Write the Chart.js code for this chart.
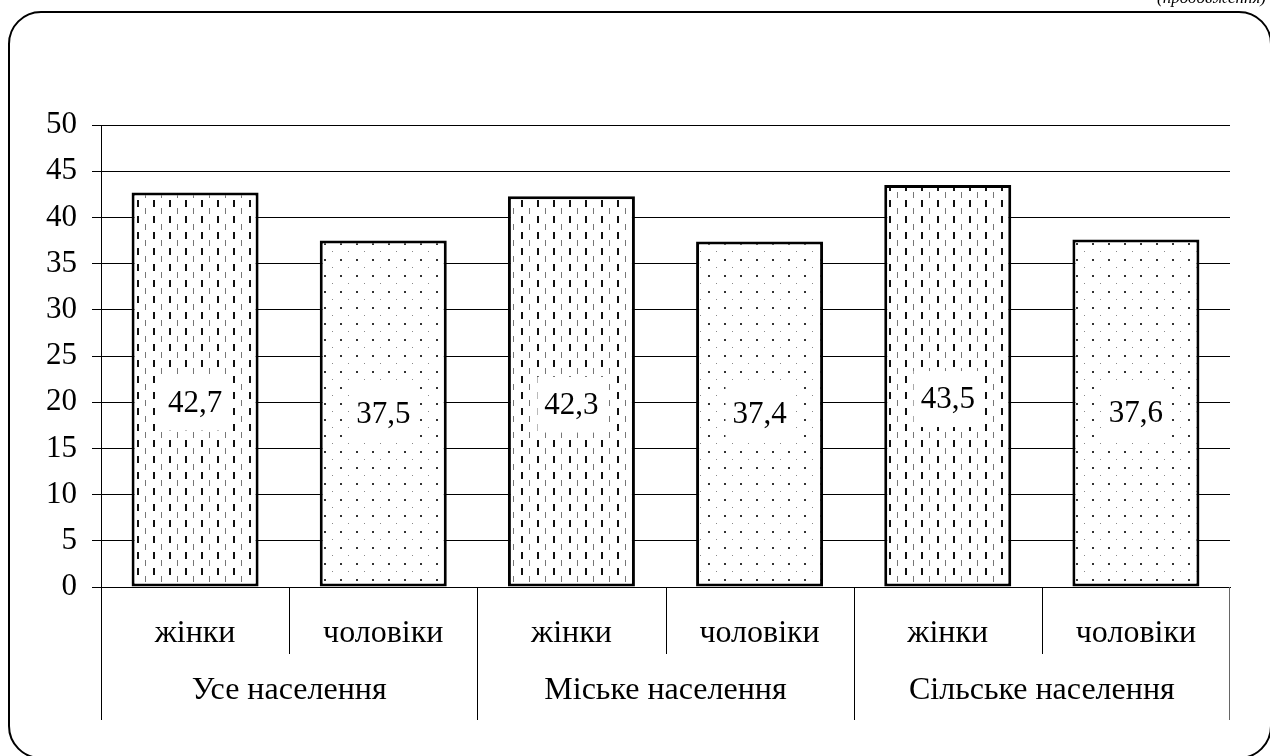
<!DOCTYPE html>
<html lang="uk">
<head>
<meta charset="utf-8">
<title>Середній вік населення</title>
<script src="https://cdn.jsdelivr.net/npm/chart.js@4/dist/chart.umd.min.js"></script>
<style>
    html, body { margin: 0; padding: 0; background: #fff; }
    canvas { display: block; }
</style>
</head>
<body>
<canvas id="ageChart" width="1270" height="756"></canvas>
<script>
/*
 * Bar chart: women / men by settlement type.
 * Bars are filled with hatch patterns, values sit in white boxes.
 */

// Data
const categories = ["жінки", "чоловіки", "жінки", "чоловіки", "жінки", "чоловіки"];
const groups = ["Усе населення", "Міське населення", "Сільське населення"];
const values = [42.7, 37.5, 42.3, 37.4, 43.5, 37.6];
const valueLabels = ["42,7", "37,5", "42,3", "37,4", "43,5", "37,6"];
const yTicks = [0, 5, 10, 15, 20, 25, 30, 35, 40, 45, 50];

const FONT = '"Liberation Serif", "Times New Roman", serif';

// Hatch pattern for women: staggered short vertical dashes
function dashPattern() {
    const c = document.createElement("canvas");
    c.width = 16;
    c.height = 16;
    const g = c.getContext("2d");
    g.fillStyle = "#fff";
    g.fillRect(0, 0, 16, 16);
    g.fillStyle = "#777";
    g.fillRect(1, 0, 1, 6);
    g.fillStyle = "#111";
    g.fillRect(9, 8, 2, 7);
    return g.createPattern(c, "repeat");
}

// Dot pattern for men
function dotPattern() {
    const c = document.createElement("canvas");
    c.width = 16;
    c.height = 16;
    const g = c.getContext("2d");
    g.fillStyle = "#fff";
    g.fillRect(0, 0, 16, 16);
    g.fillStyle = "#333";
    g.fillRect(4, 3, 2, 2);
    g.fillStyle = "#888";
    g.fillRect(12, 11, 1, 1);
    return g.createPattern(c, "repeat");
}

const womenFill = dashPattern();
const menFill = dotPattern();

// Outer rounded frame and the clipped caption at the top
const framePlugin = {
    id: "frame",
    beforeDraw(chart) {
        const ctx = chart.ctx;
        ctx.save();
        ctx.fillStyle = "#fff";
        ctx.fillRect(0, 0, chart.width, chart.height);
        ctx.strokeStyle = "#000";
        ctx.lineWidth = 2;
        ctx.beginPath();
        ctx.roundRect(9, 12, 1262, 746, 32);
        ctx.stroke();
        ctx.fillStyle = "#000";
        ctx.font = "italic 17px " + FONT;
        ctx.textAlign = "right";
        ctx.textBaseline = "alphabetic";
        ctx.fillText("(продовження)", 1266, 3);
        ctx.restore();
    },
};

// Value boxes inside the bars
const labelPlugin = {
    id: "valueBoxes",
    afterDatasetsDraw(chart) {
        const ctx = chart.ctx;
        const y = chart.scales.y;
        const meta = chart.getDatasetMeta(0);
        ctx.save();
        ctx.font = "31px " + FONT;
        ctx.textAlign = "center";
        ctx.textBaseline = "middle";
        meta.data.forEach((bar, i) => {
            const mid = (y.getPixelForValue(values[i]) + y.getPixelForValue(0)) / 2;
            const cy = mid + (i % 2 === 0 ? 13 : 0);
            const w = ctx.measureText(valueLabels[i]).width + 14;
            const h = 56;
            ctx.fillStyle = "#fff";
            ctx.fillRect(bar.x - w / 2, cy - h / 2, w, h);
            ctx.fillStyle = "#000";
            ctx.fillText(valueLabels[i], bar.x, cy + 1);
        });
        ctx.restore();
    },
};

// Two-level category axis drawn under the plot
const axisPlugin = {
    id: "twoLevelAxis",
    afterDraw(chart) {
        const ctx = chart.ctx;
        const x = chart.scales.x;
        const area = chart.chartArea;
        const step = x.getPixelForValue(1) - x.getPixelForValue(0);
        ctx.save();
        ctx.strokeStyle = "#000";
        ctx.lineWidth = 1;
        ctx.fillStyle = "#000";
        ctx.font = "32px " + FONT;
        ctx.textAlign = "center";
        ctx.textBaseline = "middle";

        categories.forEach((c, i) => {
            const cx = x.getPixelForValue(i);
            ctx.fillText(c, cx, 634);
            const edge = Math.round(cx - step / 2) + 0.5;
            const bottom = i % 2 === 0 ? 720 : 654;
            ctx.beginPath();
            ctx.moveTo(edge, area.bottom);
            ctx.lineTo(edge, bottom);
            ctx.stroke();
        });
        const last = Math.round(x.getPixelForValue(categories.length - 1) + step / 2) - 0.5;
        ctx.strokeStyle = "#666";
        ctx.beginPath();
        ctx.moveTo(last, area.bottom);
        ctx.lineTo(last, 720);
        ctx.stroke();

        groups.forEach((g, j) => {
            const gx = (x.getPixelForValue(j * 2) + x.getPixelForValue(j * 2 + 1)) / 2;
            ctx.fillText(g, gx, 691);
        });
        ctx.restore();
    },
};

new Chart(document.getElementById("ageChart"), {
    type: "bar",
    data: {
        labels: categories,
        datasets: [
            {
                data: values,
                backgroundColor: values.map((v, i) => (i % 2 === 0 ? womenFill : menFill)),
                borderColor: "#000",
                borderWidth: 3,
                borderSkipped: false,
                barPercentage: 0.675,
                categoryPercentage: 1,
            },
        ],
    },
    options: {
        responsive: false,
        animation: false,
        events: [],
        layout: { padding: { top: 125, right: 40, left: 0, bottom: 0 } },
        scales: {
            x: {
                grid: { display: false },
                border: { display: true, color: "#000", width: 1 },
                ticks: { display: false },
                afterFit: (scale) => { scale.height = 169; },
            },
            y: {
                min: 0,
                max: 50,
                afterBuildTicks: (scale) => { scale.ticks = yTicks.map((v) => ({ value: v })); },
                grid: { color: "#000", lineWidth: 1, tickLength: 9 },
                border: { display: true, color: "#000", width: 1 },
                ticks: {
                    color: "#000",
                    padding: 15,
                    font: { family: FONT, size: 31 },
                },
                afterFit: (scale) => { scale.width = 101; },
            },
        },
        plugins: {
            legend: { display: false },
            tooltip: { enabled: false },
        },
    },
    plugins: [framePlugin, labelPlugin, axisPlugin],
});
</script>
</body>
</html>
